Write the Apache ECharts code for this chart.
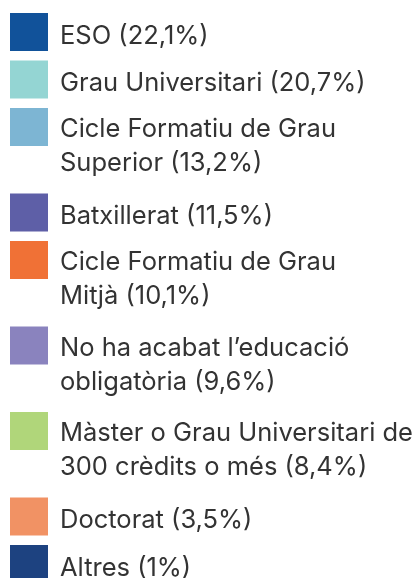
<!DOCTYPE html>
<html>
<head>
<meta charset="utf-8">
<script src="https://cdn.jsdelivr.net/npm/echarts@6/dist/echarts.min.js"></script>
<style>
  html, body { margin: 0; padding: 0; background: #fff; }
  #chart { width: 417px; height: 578px; }
</style>
</head>
<body>
<div id="chart"></div>
<script>
// categories and shares (percent)
var categories = [
  'ESO',
  'Grau Universitari',
  'Cicle Formatiu de Grau Superior',
  'Batxillerat',
  'Cicle Formatiu de Grau Mitjà',
  'No ha acabat l’educació obligatòria',
  'Màster o Grau Universitari de 300 crèdits o més',
  'Doctorat',
  'Altres'
];
var values = [22.1, 20.7, 13.2, 11.5, 10.1, 9.6, 8.4, 3.5, 1];
var percentLabels = ['22,1%', '20,7%', '13,2%', '11,5%', '10,1%', '9,6%', '8,4%', '3,5%', '1%'];
// legend text as written in the picture (with its line breaks)
var legendTexts = [
  'ESO',
  'Grau Universitari',
  'Cicle Formatiu de Grau\nSuperior',
  'Batxillerat',
  'Cicle Formatiu de Grau\nMitjà',
  'No ha acabat l’educació\nobligatòria',
  'Màster o Grau Universitari de\n300 crèdits o més',
  'Doctorat',
  'Altres'
];
var colors = ['#11529a', '#94d5d3', '#7db5d3', '#5e5fa7', '#f07136', '#8a83be', '#b0d67a', '#f19264', '#1d4280'];

var LINE_H = 34, ICON = 38, FONT = 25.5;

// legend text is centred on itemHeight/2; the icon is a 38px square at the top
// of a taller (invisible) box so the first text line sits a little below the
// square's middle, as in the picture
function squareIcon(h) {
  return 'path://M0,0H' + ICON + 'V' + ICON + 'H0Z M0,' + h + 'L0.01,' + h;
}

var legends = [];
var y = 13;
categories.forEach(function (name, i) {
  var text = legendTexts[i] + ' (' + percentLabels[i] + ')';
  var nLines = text.split('\n').length;
  var firstLineMid = nLines > 1 ? 21.5 : 23;
  var boxH = 2 * (firstLineMid + (nLines - 1) * LINE_H / 2);
  legends.push({
    data: [name],
    orient: 'vertical',
    left: 10,
    top: y,
    padding: 0,
    itemWidth: ICON,
    itemHeight: boxH,
    icon: squareIcon(boxH),
    selectedMode: false,
    formatter: function () { return text; },
    textStyle: {
      fontFamily: 'Inter',
      fontSize: FONT,
      lineHeight: LINE_H,
      color: '#333',
      padding: [0, 0, 0, 7]
    }
  });
  y += nLines > 1 ? 85.5 : 47.5;
});

var chart = echarts.init(document.getElementById('chart'));
chart.setOption({
  animation: false,
  color: colors,
  legend: legends,
  series: [{
    type: 'pie',
    center: [-1000, -1000],
    radius: 10,
    label: { show: false },
    labelLine: { show: false },
    data: categories.map(function (name, i) { return { name: name, value: values[i] }; })
  }]
});
</script>
</body>
</html>
